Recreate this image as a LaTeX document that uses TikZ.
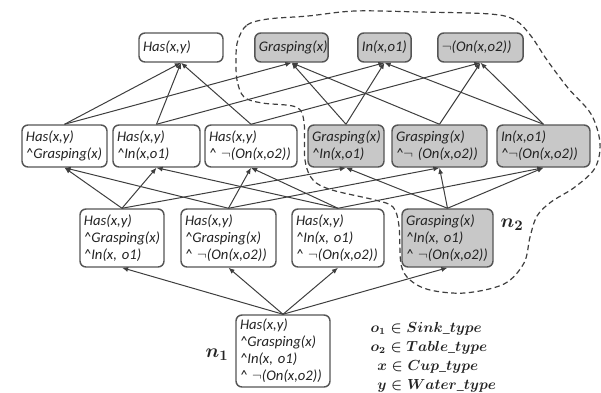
\documentclass[tikz,border=0pt]{standalone}
\usepackage{amsmath}
\usepackage{fontspec}
\setmainfont{Carlito}
\usetikzlibrary{arrows.meta}
\definecolor{lcedge}{RGB}{85,85,85}
\definecolor{lcline}{RGB}{62,62,62}
\definecolor{lcgray}{RGB}{200,200,200}
\definecolor{lcink}{RGB}{35,35,35}
\newcommand{\wedgemark}{\textasciicircum}
\newcommand{\negmark}{$\neg$}
\tikzset{
  lit/.style={
    draw=lcedge, line width=1.1pt, rounded corners=4.5pt, fill=white,
    align=left, inner xsep=3pt, inner ysep=1pt, text=lcink,
    font=\fontsize{11}{12.8}\selectfont\itshape
  },
  glit/.style={lit, fill=lcgray},
  one/.style={minimum height=21.75pt},
  two/.style={minimum height=31.5pt},
  three/.style={minimum height=43.5pt},
  four/.style={minimum height=54pt},
  arr/.style={-{Latex[length=4.6pt,width=3.8pt]}, draw=lcline, line width=0.75pt},
  region/.style={draw=lcline, line width=0.9pt, dash pattern=on 4pt off 2.6pt},
  lbl/.style={font=\fontsize{15}{17}\selectfont, text=lcink},
  key/.style={align=left, font=\fontsize{10.5}{14.25}\selectfont, text=lcink}
}
\begin{document}
\begin{tikzpicture}[x=0.75pt, y=-0.75pt]
  \useasboundingbox (0,0) rectangle (601,393);
  % single literals
  \node[lit, one, text width=57pt] (has) at (181,47.5) {Has(x,y)};
  \node[glit, one, text width=49pt] (gr) at (291.5,47.5) {Grasping(x)};
  \node[glit, one, text width=34pt] (io) at (384.5,47.5) {In(x,o1)};
  \node[glit, one, text width=58pt] (no) at (480.5,47.5) {\negmark(On(x,o2))};
  % pairs
  \node[lit, two, text width=57.75pt] (hasgr) at (64.5,146) {Has(x,y)\\\wedgemark Grasping(x)};
  \node[lit, two, text width=59.25pt] (hasio) at (156.5,146) {Has(x,y)\\\wedgemark In(x,o1)};
  \node[lit, two, text width=63pt] (hasno) at (251,146) {Has(x,y)\\\wedgemark\ \negmark(On(x,o2))};
  \node[glit, two, text width=51pt] (grio) at (346,146) {Grasping(x)\\\wedgemark In(x,o1)};
  \node[glit, two, text width=65.25pt] (grno) at (439.5,146) {Grasping(x)\\\wedgemark\negmark\ (On(x,o2))};
  \node[glit, two, text width=63.75pt] (iono) at (543.5,146) {In(x,o1)\\\wedgemark\negmark(On(x,o2))};
  % triples
  \node[lit, three, text width=57pt] (hasgrio) at (122,238) {Has(x,y)\\\wedgemark Grasping(x)\\\wedgemark In(x, o1)};
  \node[lit, three, text width=65.25pt] (hasgrno) at (228.5,238) {Has(x,y)\\\wedgemark Grasping(x)\\\wedgemark\ \negmark(On(x,o2))};
  \node[lit, three, text width=63pt] (hasiono) at (338,238) {Has(x,y)\\\wedgemark In(x, o1)\\\wedgemark\ \negmark(On(x,o2))};
  \node[glit, three, text width=62.25pt] (griono) at (447.5,238) {Grasping(x)\\\wedgemark In(x, o1)\\\wedgemark\ \negmark(On(x,o2))};
  % full conjunction
  \node[lit, four, text width=64.5pt] (nall) at (283,351) {Has(x,y)\\\wedgemark Grasping(x)\\\wedgemark In(x, o1)\\\wedgemark\ \negmark(On(x,o2))};
  \foreach \p/\q in {hasgr/has,hasgr/gr,hasio/has,hasio/io,hasno/has,hasno/no,
                     grio/gr,grio/io,grno/gr,grno/no,iono/io,iono/no,
                     hasgrio/hasgr,hasgrio/hasio,hasgrio/grio,
                     hasgrno/hasgr,hasgrno/hasno,hasgrno/grno,
                     hasiono/hasio,hasiono/hasno,hasiono/iono,
                     griono/grio,griono/grno,griono/iono,
                     nall/hasgrio,nall/hasgrno,nall/hasiono,nall/griono}
    \draw[arr] (\p.north) -- (\q.south);
  % region n2
  \draw[region] plot[smooth cycle, tension=0.55] coordinates {
    (238,40) (247,25) (268,19) (308,16) (355,11) (420,12) (490,14) (515,20)
    (531,36) (547,60) (568,88) (591,114) (600,143) (595,168) (575,187)
    (551,202) (537,216) (530,237) (524,263) (504,284) (465,293) (430,290)
    (410,280) (401,264) (399,226) (393,207) (375,200) (332,190) (313,180)
    (305,160) (304,122) (296,107) (262,103) (244,97) (237,80) (236,56)};
  \node[lbl] (lbla) at (217,355) {$\boldsymbol{n_1}$};
  \node[lbl] (lblb) at (512,225) {$\boldsymbol{n_2}$};
  \node[key, anchor=west] (types) at (366,357.5) {$\boldsymbol{o_1 \in Sink\_type}$\\
    $\boldsymbol{o_2 \in Table\_type}$\\
    \hspace{5pt}$\boldsymbol{x \in Cup\_type}$\\
    \hspace{5pt}$\boldsymbol{y \in Water\_type}$};
\end{tikzpicture}
\end{document}
